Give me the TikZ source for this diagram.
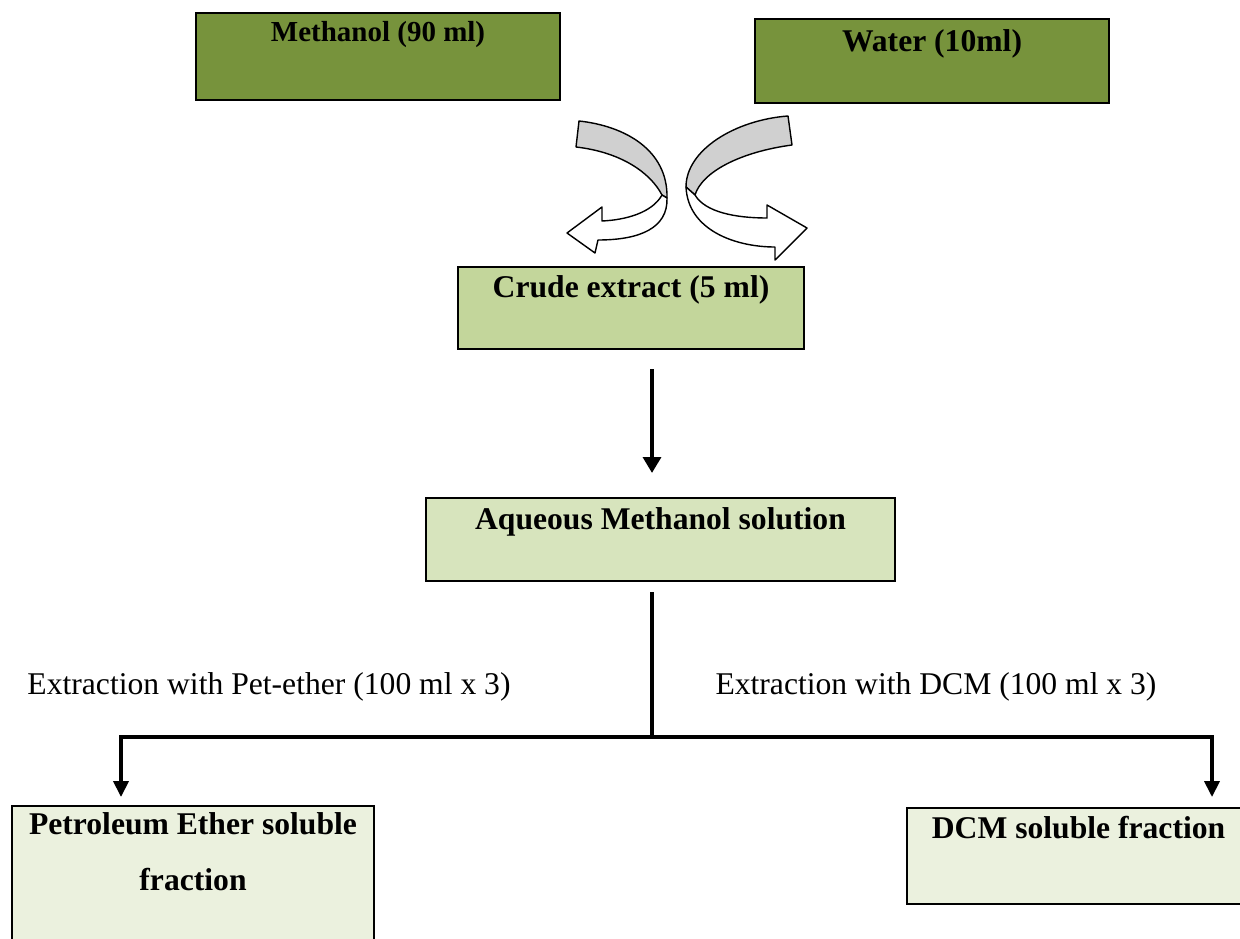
\documentclass[tikz,border=0pt]{standalone}
\usepackage{fontspec}
\setmainfont{Liberation Serif}
\usetikzlibrary{arrows.meta}

\definecolor{boxolive}{HTML}{77933C}
\definecolor{boxcrude}{HTML}{C3D69B}
\definecolor{boxaqueous}{HTML}{D7E4BD}
\definecolor{boxfraction}{HTML}{EBF1DE}
\definecolor{ribbongray}{HTML}{D0D0D0}

\tikzset{
  box/.style={draw, line width=1.2pt, inner sep=0pt, anchor=north west,
    font=\fontsize{18}{21.6}\selectfont\bfseries},
  flow/.style={line width=2.8pt, -{Triangle[width=10pt,length=9pt]}},
  drop/.style={line width=2pt, -{Triangle[width=8.5pt,length=9pt]}},
  ribbon/.style={draw, line width=0.8pt, line join=round},
  plain/.style={font=\fontsize{18}{21.6}\selectfont, anchor=base},
}

\begin{document}
\begin{tikzpicture}[x=0.02cm,y=-0.02cm]
\useasboundingbox (0,0) rectangle (1240,939);

\node[box, fill=boxolive, minimum width=7.28cm, text height=0.56cm, text depth=1.18cm,
  font=\fontsize{16.5}{20}\selectfont\bfseries] (methanol) at (195,12) {Methanol (90 ml)};
\node[box, fill=boxolive, minimum width=7.08cm, text height=0.64cm, text depth=1.04cm] (water) at (754,18) {Water (10ml)};
\node[box, fill=boxcrude, minimum width=6.92cm, text height=0.6cm, text depth=1.04cm] (crude) at (457,266) {Crude extract (5 ml)};
\node[box, fill=boxaqueous, minimum width=9.38cm, text height=0.62cm, text depth=1.04cm] (aqueous) at (425,497) {Aqueous Methanol solution};
\node[box, fill=boxfraction, minimum width=7.24cm, text height=0.56cm, text depth=2.4cm,
  font=\fontsize{18}{32.3}\selectfont\bfseries] (petfrac) at (11,805)
  {\parbox[t]{7.24cm}{\centering Petroleum Ether soluble\\fraction}};
\node[box, fill=boxfraction, minimum width=6.86cm, text height=0.6cm, text depth=1.32cm] (dcmfrac) at (906,807) {DCM soluble fraction};

\node[plain] (petlabel) at (269,694) {Extraction with Pet-ether (100 ml x 3)};
\node[plain] (dcmlabel) at (936,694) {Extraction with DCM (100 ml x 3)};

% ribbon arrows under the two solvents
\filldraw[ribbon, fill=ribbongray] (579,121) .. controls (625,126) and (668,150) .. (667,198)
  -- (662,195) .. controls (650,172) and (620,152) .. (576,147) -- cycle;
\filldraw[ribbon, fill=white] (662,195) .. controls (652,213) and (625,220) .. (602,221)
  -- (602,207) -- (567,233) -- (595,253) -- (598,240)
  .. controls (640,240) and (668,228) .. (667,198) -- cycle;

\filldraw[ribbon, fill=ribbongray] (788,116) .. controls (735,120) and (686,150) .. (686,187)
  -- (695,195) .. controls (702,172) and (740,152) .. (792,145) -- cycle;
\filldraw[ribbon, fill=white] (695,195) .. controls (705,212) and (735,218) .. (767,218)
  -- (767,205) -- (807,228) -- (775,260) -- (775,247)
  .. controls (735,247) and (688,230) .. (686,187) -- cycle;

\coordinate (split) at (652,737);
\coordinate (lcorner) at (121,737);
\coordinate (rcorner) at (1212,737);

\draw[flow, shorten <=0.38cm, shorten >=0.48cm] (crude.south -| split) -- (aqueous.north -| split);
\draw[line width=2.8pt, shorten <=0.2cm] (aqueous.south -| split) -- (split);
\draw[drop, shorten >=0.16cm] (split) -| (lcorner |- petfrac.north);
\draw[drop, shorten >=0.2cm] (split) -| (rcorner |- dcmfrac.north);

\end{tikzpicture}
\end{document}
